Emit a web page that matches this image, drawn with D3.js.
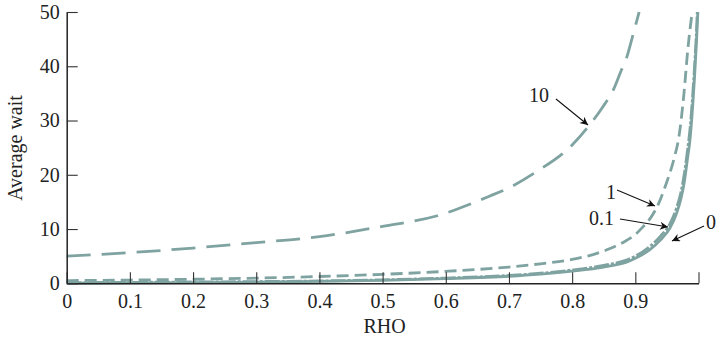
<!DOCTYPE html>
<html>
<head>
<meta charset="utf-8">
<script src="https://cdn.jsdelivr.net/npm/d3@7"></script>
<style>
  html, body { margin: 0; padding: 0; background: #fff; }
  svg { display: block; }
  text { font-family: "Liberation Serif", "DejaVu Serif", serif; fill: #222; }
</style>
</head>
<body>
<svg id="chart" width="717" height="342"></svg>
<script>
// ---- data ----
const xTickValues = [0, 0.1, 0.2, 0.3, 0.4, 0.5, 0.6, 0.7, 0.8, 0.9, 1.0];
const xTickLabels = ["0", "0.1", "0.2", "0.3", "0.4", "0.5", "0.6", "0.7", "0.8", "0.9", ""];
const yTickValues = [0, 10, 20, 30, 40, 50];

const rho10 = [0, 0.1, 0.2, 0.3, 0.4, 0.5, 0.585, 0.67, 0.7, 0.744, 0.8, 0.825, 0.849, 0.865, 0.878, 0.886, 0.897, 0.906];
const wait10 = [5.0, 5.65, 6.5, 7.5, 8.6, 10.5, 12.4, 16.1, 17.6, 20.6, 25.5, 28.8, 32.6, 35.6, 39.3, 41.5, 46.1, 50.0];

const rho1 = [0, 0.1, 0.2, 0.3, 0.4, 0.5, 0.6, 0.7, 0.75, 0.8, 0.833, 0.86, 0.886, 0.9, 0.912, 0.925, 0.934, 0.949, 0.962, 0.969, 0.977, 0.983, 0.99];
const wait1 = [0.5, 0.6, 0.75, 0.95, 1.25, 1.65, 2.2, 3.0, 3.6, 4.4, 5.3, 6.4, 7.9, 9.0, 10.4, 12.2, 14.0, 18.4, 23.3, 27.0, 35.0, 43.0, 50.0];

const rho01 = [0, 0.1, 0.2, 0.3, 0.4, 0.5, 0.6, 0.7, 0.75, 0.8, 0.85, 0.886, 0.9, 0.923, 0.94, 0.955, 0.965, 0.972, 0.978, 0.982, 0.987, 0.991, 0.994, 0.997, 0.998];
const wait01 = [0.12, 0.17, 0.24, 0.32, 0.44, 0.64, 0.97, 1.45, 1.85, 2.45, 3.3, 4.3, 5.0, 6.8, 8.7, 11.0, 13.8, 16.7, 20.5, 24.0, 29.0, 35.0, 40.5, 47.0, 50.0];

const rho0 = [0, 0.1, 0.2, 0.3, 0.4, 0.5, 0.6, 0.7, 0.75, 0.8, 0.85, 0.886, 0.9, 0.923, 0.94, 0.955, 0.965, 0.972, 0.978, 0.982, 0.987, 0.991, 0.994, 0.997, 0.999];
const wait0 = [0.0, 0.06, 0.13, 0.22, 0.35, 0.55, 0.85, 1.3, 1.7, 2.25, 3.0, 3.9, 4.6, 6.2, 8.0, 10.2, 12.8, 15.5, 19.0, 22.5, 27.0, 33.0, 38.5, 45.0, 50.0];

const seriesNames = ["10", "1", "0.1", "0"];
const seriesRho = [rho10, rho1, rho01, rho0];
const seriesWait = [wait10, wait1, wait01, wait0];

// ---- layout / style ----
const svg = d3.select("#chart");
const x = d3.scaleLinear().domain([0, 1]).range([66.7, 698.5]);
const y = d3.scaleLinear().domain([0, 50]).range([283.3, 12]);
const curveColor = "#7ea3a1";
const dashes = ["24,11", "12,6", "15,2,3,2", null];

// clip
svg.append("defs").append("clipPath").attr("id", "plotclip")
  .append("rect").attr("x", 60).attr("y", 10).attr("width", 650).attr("height", 280);

// arrow marker
svg.select("defs").append("marker")
  .attr("id", "arrow").attr("viewBox", "0 0 10 10")
  .attr("refX", 10).attr("refY", 5)
  .attr("markerWidth", 10).attr("markerHeight", 8)
  .attr("markerUnits", "userSpaceOnUse")
  .attr("orient", "auto")
  .append("path").attr("d", "M0,0 L10,5 L0,10 L3,5 Z").attr("fill", "#111");

const line = d3.line().x(d => x(d[0])).y(d => y(d[1])).curve(d3.curveMonotoneX);

const plot = svg.append("g").attr("clip-path", "url(#plotclip)");
seriesNames.forEach((name, i) => {
  const pts = seriesRho[i].map((r, j) => [r, seriesWait[i][j]]);
  plot.append("path")
    .datum(pts)
    .attr("d", line)
    .attr("fill", "none")
    .attr("stroke", curveColor)
    .attr("stroke-width", 2.8)
    .attr("stroke-dasharray", dashes[i])
    .attr("stroke-linecap", "butt");
});

// axes
const xAxis = d3.axisBottom(x).tickValues(xTickValues)
  .tickFormat((d, i) => xTickLabels[i]).tickSizeInner(-11).tickSizeOuter(0).tickPadding(11);
const yAxis = d3.axisLeft(y).tickValues(yTickValues)
  .tickFormat(d3.format("d")).tickSizeInner(-11).tickSizeOuter(0).tickPadding(7);

const gx = svg.append("g").attr("transform", `translate(0,${y(0)})`).call(xAxis);
const gy = svg.append("g").attr("transform", `translate(${x(0)},0)`).call(yAxis);
[gx, gy].forEach(g => {
  g.select(".domain").attr("stroke", "#222").attr("stroke-width", 1.5);
  g.selectAll(".tick line").attr("stroke", "#333").attr("stroke-width", 1.1);
  g.selectAll(".tick text").attr("font-family", "Liberation Serif, serif").attr("font-size", 20).attr("fill", "#222");
});

// axis titles
svg.append("text").attr("x", (x(0) + x(1)) / 2 + 2).attr("y", 333)
  .attr("text-anchor", "middle").attr("font-size", 20).text("RHO");
svg.append("text").attr("transform", `translate(22,148) rotate(-90)`)
  .attr("text-anchor", "middle").attr("font-size", 20).text("Average wait");

// annotations
const annLabels = ["10", "1", "0.1", "0"];
const annText = [[529, 102], [606, 199], [589, 225], [706, 229]];
const annFrom = [[556, 99], [617, 190], [620, 219], [704, 226]];
const annTo = [[588, 125], [655, 206], [668, 227], [672, 241]];
annLabels.forEach((t, i) => {
  svg.append("text").attr("x", annText[i][0]).attr("y", annText[i][1])
    .attr("font-size", 20).text(t);
  svg.append("line")
    .attr("x1", annFrom[i][0]).attr("y1", annFrom[i][1])
    .attr("x2", annTo[i][0]).attr("y2", annTo[i][1])
    .attr("stroke", "#111").attr("stroke-width", 1.1)
    .attr("marker-end", "url(#arrow)");
});
</script>
</body>
</html>
